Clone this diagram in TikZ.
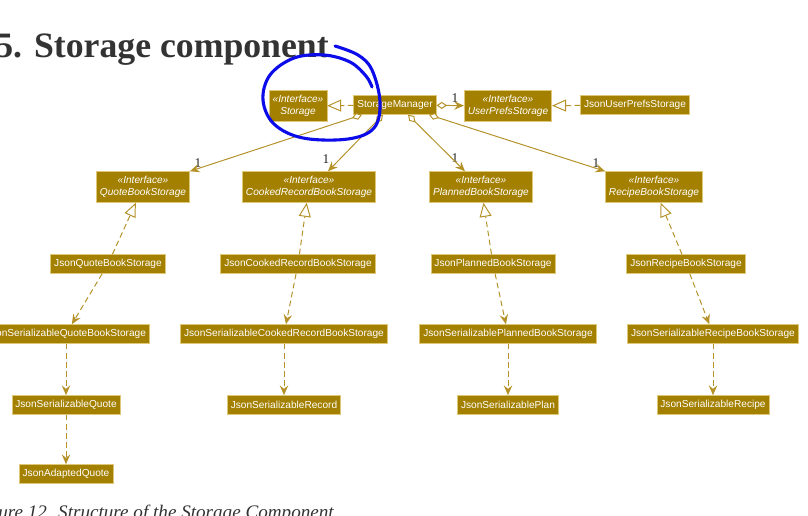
\documentclass[tikz,border=0pt]{standalone}
\usepackage{fontspec}
\setmainfont{Liberation Serif}
\newfontfamily\umlsans{Liberation Sans}
\usepackage{xcolor}
\usepackage{tikz}
\usetikzlibrary{positioning,arrows.meta,calc}

\definecolor{umlfill}{RGB}{163,128,0}
\definecolor{umlborder}{RGB}{222,200,120}
\definecolor{umlline}{RGB}{181,146,40}
\definecolor{headgray}{RGB}{51,51,51}
\definecolor{penblue}{RGB}{12,12,235}
\newcommand{\umlfont}{\umlsans\fontsize{7.2}{8.6}\selectfont}

\begin{document}
\begin{tikzpicture}[
    x=0.025cm, y=-0.025cm,
    box/.style={draw=umlborder, fill=umlfill, text=white, font=\umlfont, inner xsep=2.5pt, inner ysep=1.5pt, minimum height=13.5pt, line width=0.4pt},
    iface/.style={box, font=\umlfont\itshape, align=center, minimum height=22pt},
    link/.style={draw=umlline, line width=0.7pt},
    realize/.style={link, dash pattern=on 4pt off 2.5pt, -{Triangle[open, length=10pt, width=8.5pt, fill=white]}},
    depend/.style={link, dash pattern=on 4pt off 2.5pt, -{Stealth[length=7pt, width=6pt, inset=2.5pt]}},
    assoc/.style={link, {Diamond[open, length=7.5pt, width=5pt, fill=white]}-{Stealth[length=7pt, width=6pt, inset=2.5pt]}},
    mult/.style={font=\fontsize{9.5}{10}\selectfont, text=black!85, inner sep=0pt},
    scribble/.style={draw=penblue, line width=2.2pt, line cap=round, line join=round},
]
\useasboundingbox (0,0) rectangle (808,515);
\clip (0,0) rectangle (808,515);
\fill[white] (0,0) rectangle (808,515);

% heading and caption of the page
\node[font=\bfseries\fontsize{25.4}{30}\selectfont, text=headgray, anchor=base east, inner sep=0pt] (title) at (329,57) {15. Storage component};
\node[font=\itshape\fontsize{13.6}{15}\selectfont, text=headgray, anchor=base east, inner sep=0pt] (caption) at (334,518) {Figure 12. Structure of the Storage Component};

% top row
\node[iface] (stor) at (298,106) {«Interface»\\Storage};
\node[box] (mgr) at (395,105) {StorageManager};
\node[iface] (ups) at (508,106) {«Interface»\\UserPrefsStorage};
\node[box] (jups) at (635,105) {JsonUserPrefsStorage};

% book storage interfaces
\node[iface] (qbs) at (143,187) {«Interface»\\QuoteBookStorage};
\node[iface] (crbs) at (309,187) {«Interface»\\CookedRecordBookStorage};
\node[iface] (pbs) at (481,187) {«Interface»\\PlannedBookStorage};
\node[iface] (rbs) at (654,187) {«Interface»\\RecipeBookStorage};

% json implementations
\node[box] (jqbs) at (108,264) {JsonQuoteBookStorage};
\node[box] (jcrbs) at (298,264) {JsonCookedRecordBookStorage};
\node[box] (jpbs) at (493,264) {JsonPlannedBookStorage};
\node[box] (jrbs) at (686,264) {JsonRecipeBookStorage};

\node[box] (jsqbs) at (66,334) {JsonSerializableQuoteBookStorage};
\node[box] (jscrbs) at (284,334) {JsonSerializableCookedRecordBookStorage};
\node[box] (jspbs) at (508,334) {JsonSerializablePlannedBookStorage};
\node[box] (jsrbs) at (713,334) {JsonSerializableRecipeBookStorage};

\node[box] (jsq) at (66,405) {JsonSerializableQuote};
\node[box] (jsr) at (284,405) {JsonSerializableRecord};
\node[box] (jsp) at (508,405) {JsonSerializablePlan};
\node[box] (jsrc) at (713,405) {JsonSerializableRecipe};

\node[box] (jaq) at (66,474) {JsonAdaptedQuote};

% multiplicities
\node[mult] (m0) at (455,98) {1};
\node[mult] (m1) at (198,163) {1};
\node[mult] (m2) at (326,159) {1};
\node[mult] (m3) at (455,158) {1};
\node[mult] (m4) at (596,163) {1};

% connectors
\draw[realize] (mgr) -- (stor);
\draw[assoc] (mgr) -- (ups);
\draw[realize] (jups) -- (ups);

\draw[assoc] ($(mgr.south)+(-33,0)$) -- (qbs.north east);
\draw[assoc] ($(mgr.south)+(-12,0)$) -- ($(crbs.north)+(19,0)$);
\draw[assoc] ($(mgr.south)+(13,0)$) -- ($(pbs.north)+(-16,0)$);
\draw[assoc] ($(mgr.south)+(34,0)$) -- (rbs.north west);

\draw[realize] (jqbs) -- (qbs);
\draw[realize] (jcrbs) -- (crbs);
\draw[realize] (jpbs) -- (pbs);
\draw[realize] (jrbs) -- (rbs);

\draw[depend] (jqbs) -- (jsqbs);
\draw[depend] (jcrbs) -- (jscrbs);
\draw[depend] (jpbs) -- (jspbs);
\draw[depend] (jrbs) -- (jsrbs);

\draw[depend] (jsqbs) -- (jsq);
\draw[depend] (jscrbs) -- (jsr);
\draw[depend] (jspbs) -- (jsp);
\draw[depend] (jsrbs) -- (jsrc);
\draw[depend] (jsq) -- (jaq);

% pen mark round the Storage interface
\draw[scribble] plot[smooth, tension=0.6] coordinates {(335,46) (358,55) (372,70) (380,102) (374,128) (348,139) (303,138) (274,124) (263,100) (270,75) (294,58) (324,55) (350,62) (366,76) (372,87)};

\end{tikzpicture}
\end{document}
